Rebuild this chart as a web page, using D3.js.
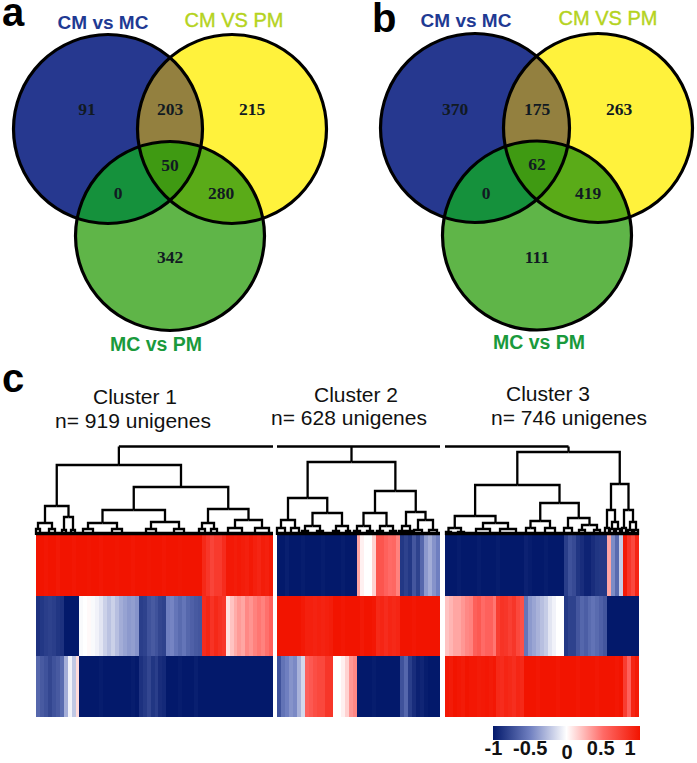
<!DOCTYPE html>
<html lang="en">
<head>
    <meta charset="UTF-8">
    <title>Venn diagrams and cluster heatmap</title>
    <script src="https://d3js.org/d3.v7.min.js"></script>
    <style>
        html, body { margin: 0; padding: 0; background: #fff; }
        svg { display: block; }
        text { font-family: "Liberation Sans", Arial, sans-serif; }
        .count { font-family: "Liberation Serif", serif; font-weight: bold; font-size: 17.5px; fill: #111a22; text-anchor: middle; dominant-baseline: central; }
        .soft { filter: blur(0.6px); }
    </style>
</head>
<body>
    <div id="chart"></div>
    <script>
        // Venn counts, order: blue only, blue+yellow, yellow only, all three, blue+green, yellow+green, green only
        const regionNames = ["CM vs MC", "CM VS PM", "MC vs PM"];
        const countsA = [91, 203, 215, 50, 0, 280, 342];
        const countsB = [370, 175, 263, 62, 0, 419, 111];

        // heatmap strips, one value per strip, -1 to 1
        const c1Row1 = [1,1,.98,1,1,.97,1,1,1,.98,1,1,1,.99,1,1,.98,1,1,1,.99,1,1,1,.98,1,1,1,.99,1,1,1,.98,1,1,1,.99,1,1,1,1,1,.88,.8,.72,.78,.78,.86,.97,.97,.95,.97,.95,.93,.97,.93,.9,.95,.93,.97];
        const c1Row2 = [-.88,-.85,-.82,-.8,-.82,-.86,-.88,-1,-1,-1,-1,-.02,0,.02,-.02,-.05,-.1,-.18,-.24,-.18,-.25,-.32,-.36,-.4,-.38,-.42,-.82,-.8,-.72,-.68,-.72,-.78,-.8,-.5,-.48,-.55,-.6,-.55,-.62,-.65,-.68,-.7,.86,.9,.82,.88,.84,.8,.1,.2,.28,.34,.3,.4,.36,.42,.46,.42,.48,.55];
        const c1Row3 = [-.62,-.68,-.72,-.78,-.72,-.68,-.6,-.32,-.05,-.22,.12,-1,-1,-1,-1,-1,-.98,-1,-1,-1,-1,-1,-1,-1,-.98,-1,-.88,-.84,-.78,-.86,-.82,-.9,-.92,-1,-1,-1,-.98,-1,-1,-1,-.97,-1,-1,-1,-1,-1,-1,-1,-1,-1,-1,-1,-1,-1,-1,-1,-1,-1,-1,-1];
        const c2Row1 = [-1,-1,-.97,-1,-1,-1,-.98,-1,-1,-1,-1,-.98,-1,-1,-1,-1,-.98,-1,-1,-1,.3,.05,0,0,.15,.62,.62,.55,.5,.52,.42,-.85,-.8,-.85,-.7,-.8,-.62,-.4,-.32,-.42,-.5];
        const c2Row2 = [1,1,1,1,1,1,.97,.93,.93,.91,.93,.91,.93,.95,1,1,.98,1,1,1,1,.97,1,1,.98,.88,.9,.86,.9,.88,.9,1,1,1,.98,1,1,1,1,1,1];
        const c2Row3 = [-.72,-.56,-.5,-.42,-.46,-.3,-.15,.55,.6,.66,.7,.7,.8,.8,0,0,.05,.15,.35,.4,-1,-1,-1,-1,-.98,-1,-1,-1,-1,-1,-1,-.72,-.62,-.82,-.9,-.96,-.94,-.98,-1,-1,-1];
        const c3Row1 = [-1,-1,-1,-.98,-1,-1,-1,-1,-.98,-1,-1,-1,-1,-.98,-1,-1,-1,-1,-1,-1,-.96,-.98,-1,-1,-1,-.98,-1,-1,-1,-1,-.82,-.72,-.76,-.86,-.9,-.95,-.95,-.9,-.86,-.85,-.85,.3,-.45,-.6,-.2,.96,.8,.7,.9];
        const c3Row2 = [.2,.25,.3,.3,.35,.4,.42,.56,.6,.5,.55,.55,.46,.76,.82,.8,.75,.8,.7,.65,-.55,-.4,-.35,-.3,-.25,-.2,-.1,-.05,0,0,-.85,-.8,-.8,-.7,-.62,-.66,-.6,-.56,-.6,-.65,-.7,-1,-1,-1,-1,-1,-1,-1,-1];
        const c3Row3 = [.98,.96,1,.98,.96,1,.98,.98,.96,.97,.98,.96,.98,.88,.86,.9,.88,.85,.9,.88,1,1,1,.98,1,1,1,1,.98,1,1,1,1,.98,1,1,1,1,.98,1,1,1,1,.98,1,.76,.55,.9,.96];

        // dendrograms, node = [height, left, right], leaf = position along the cluster
        const treeC1 = [70,
            [29, [12, [6, 0, 4], [6, 13, 19]], [18, [5, 26, 30], [5, 35, 39]]],
            [48,
                [25, [12, [6, 47, 57], [6, 76, 86]], [13, [6, 110, 120], [6, 138, 148]]],
                [26, [12, [6, 163, 169], [6, 175, 181]], [15, [7, 192, 206], [7, 219, 233]]]]];
        const treeC2 = [73,
            [37, [15, [7, 0, 8], [7, 14, 22]],
                [22, [9, [4, 25, 31], [4, 40, 46]], [9, [4, 56, 62], [4, 69, 73]]]],
            [44, [22, [9, [4, 77, 83], [4, 90, 96]], [9, [4, 100, 106], [4, 113, 119]]],
                [23, [9, [4, 122, 128], [4, 130, 136]], [15, [5, 137, 145], [5, 152, 160]]]]];
        const treeC3 = [83,
            [50, [19, [7, [3, 1, 6], [3, 13, 19]], [12, [6, 31, 45], [6, 55, 71]]],
                [32, [14, [7, 81, 90], [7, 100, 110]], [17, [7, 119, 127], [10, [5, 134, 140], [5, 149, 155]]]]],
            [51, [25, [7, 160, 164], [13, [6, 165, 169], [6, 171, 175]]],
                [25, [7, 177, 181], [13, [5, 183, 187], [5, 189, 193]]]]];

        const clusterNames = ["Cluster 1", "Cluster 2", "Cluster 3"];
        const clusterSizes = ["n= 919 unigenes", "n= 628 unigenes", "n= 746 unigenes"];
        const dendroLengths = [237, 163, 194];
        const topBars = [[null, 237], [0, 163], [0, null]];
        const colorTicks = [-1, -0.5, 0, 0.5, 1];
        const colorStops = ["#03196b", "#6f7fc0", "#ffffff", "#ff6a66", "#f21400"];

        const width = 697, height = 763;
        const svg = d3.select("#chart").append("svg")
            .attr("width", width).attr("height", height);

        const color = d3.scaleLinear().domain(colorTicks).range(colorStops).clamp(true);

        // ---------- venn ----------
        const regionFills = { blue: "#26388f", yellow: "#fff23c", green: "#5fb548",
            by: "#93803f", bg: "#15913c", yg: "#5aab18", all: "#3f9a12" };

        function venn(id, circles, counts, spots, labels) {
            const g = svg.append("g");
            const defs = g.append("defs");
            circles.forEach((c, i) => {
                defs.append("clipPath").attr("id", id + i)
                    .append("circle").attr("cx", c[0]).attr("cy", c[1]).attr("r", c[2]);
            });
            const disc = (p, i, fill) => p.append("circle")
                .attr("cx", circles[i][0]).attr("cy", circles[i][1]).attr("r", circles[i][2]).attr("fill", fill);

            disc(g, 0, regionFills.blue);
            disc(g, 1, regionFills.yellow);
            disc(g, 2, regionFills.green);
            disc(g.append("g").attr("clip-path", `url(#${id}0)`), 1, regionFills.by);
            disc(g.append("g").attr("clip-path", `url(#${id}0)`), 2, regionFills.bg);
            disc(g.append("g").attr("clip-path", `url(#${id}1)`), 2, regionFills.yg);
            disc(g.append("g").attr("clip-path", `url(#${id}0)`)
                .append("g").attr("clip-path", `url(#${id}1)`), 2, regionFills.all);

            g.selectAll("circle.ring").data(circles).join("circle")
                .attr("class", "ring")
                .attr("cx", d => d[0]).attr("cy", d => d[1]).attr("r", d => d[2])
                .attr("fill", "none").attr("stroke", "#000").attr("stroke-width", 3.2);

            g.selectAll("text.count").data(counts).join("text")
                .attr("class", "count")
                .attr("x", (d, i) => spots[i][0]).attr("y", (d, i) => spots[i][1])
                .text(d => d);

            const labelColors = ["#1f3a93", "#b5d31e", "#1a9a3c"];
            const labelSizes = [19, 20, 19.5];
            g.selectAll("text.setname").data(regionNames).join("text")
                .attr("class", "setname")
                .attr("x", (d, i) => labels[i][0]).attr("y", (d, i) => labels[i][1])
                .attr("text-anchor", "middle")
                .attr("font-size", (d, i) => labelSizes[i])
                .attr("font-weight", (d, i) => i == 1 ? "normal" : "bold")
                .attr("fill", (d, i) => labelColors[i])
                .attr("stroke", (d, i) => i == 1 ? labelColors[i] : "none")
                .attr("stroke-width", 0.4)
                .text(d => d);
        }

        venn("va", [[108, 129, 94.5], [232, 129, 94.5], [170, 236, 94.5]], countsA,
            [[87, 109], [170, 109], [252, 109], [170, 165], [118, 193], [221, 193], [170, 257]],
            [[103, 29], [234, 27], [156, 351]]);
        venn("vb", [[475, 128, 94.5], [598, 128, 94.5], [537, 235.5, 94.5]], countsB,
            [[455, 109], [537, 109], [619, 109], [537, 164], [486, 193], [588, 193], [537, 257]],
            [[466, 27], [608, 25], [539, 349]]);

        // panel letters
        const panels = [["a", 2, 26], ["b", 372, 32], ["c", 2, 392]];
        svg.selectAll("text.panel").data(panels).join("text")
            .attr("class", "panel")
            .attr("x", d => d[1]).attr("y", d => d[2])
            .attr("font-size", 40).attr("font-weight", "bold").attr("fill", "#000")
            .text(d => d[0]);

        // ---------- heatmap ----------
        const clusterX = [[36, 273], [277, 440], [445, 639]];
        const rowY = d3.scaleBand().domain([0, 1, 2]).range([535, 717]);
        const rows = [[c1Row1, c1Row2, c1Row3], [c2Row1, c2Row2, c2Row3], [c3Row1, c3Row2, c3Row3]];
        const heat = svg.append("g").attr("class", "soft").attr("shape-rendering", "crispEdges");

        rows.forEach((clusterRows, k) => {
            const x = d3.scaleBand().domain(d3.range(clusterRows[0].length)).range(clusterX[k]);
            clusterRows.forEach((vals, r) => {
                heat.append("g").selectAll("rect").data(vals).join("rect")
                    .attr("x", (d, i) => x(i))
                    .attr("y", rowY(r))
                    .attr("width", (d, i) => i == vals.length - 1 ? x.bandwidth() : x.bandwidth() + 1)
                    .attr("height", rowY.bandwidth())
                    .attr("fill", d => color(d));
            });
        });

        // ---------- dendrograms ----------
        const distY = d3.scaleLinear().domain([0, 90]).range([535, 445]);
        const dendro = svg.append("g").attr("class", "soft")
            .attr("fill", "none").attr("stroke", "#000").attr("stroke-width", 2.3);

        [treeC1, treeC2, treeC3].forEach((tree, k) => {
            const x = d3.scaleLinear().domain([0, dendroLengths[k]]).range(clusterX[k]);
            const root = d3.hierarchy(tree, d => Array.isArray(d) ? d.slice(1) : null);
            root.eachAfter(n => {
                n.pos = n.children ? d3.mean(n.children, c => c.pos) : n.data;
                n.h = n.children ? n.data[0] : 0;
            });
            root.links().forEach(l => {
                dendro.append("path").attr("d",
                    `M${x(l.source.pos)},${distY(l.source.h)}H${x(l.target.pos)}V${distY(l.target.h)}`);
            });
            // base of the leaves
            dendro.append("line")
                .attr("x1", clusterX[k][0]).attr("x2", clusterX[k][1])
                .attr("y1", 533.5).attr("y2", 533.5).attr("stroke-width", 3.5);
            // top bar joining the clusters
            const bar = topBars[k].map(v => v === null ? root.pos : v);
            dendro.append("path").attr("d",
                `M${x(bar[0])},${distY(88.5)}H${x(bar[1])}`);
            dendro.append("path").attr("d",
                `M${x(root.pos)},${distY(88.5)}V${distY(root.h)}`);
        });

        // cluster titles
        const titleX = [[135, 133], [356, 349], [548, 569]];
        const titleY = [[404, 428], [402, 425], [401, 425]];
        clusterNames.forEach((name, k) => {
            svg.append("text").attr("x", titleX[k][0]).attr("y", titleY[k][0])
                .attr("text-anchor", "middle").attr("font-size", 21).attr("fill", "#111").text(name);
            svg.append("text").attr("x", titleX[k][1]).attr("y", titleY[k][1])
                .attr("text-anchor", "middle").attr("font-size", 21).attr("fill", "#111").text(clusterSizes[k]);
        });

        // ---------- colour bar ----------
        const barX = d3.scaleLinear().domain([-1, 1]).range([493, 640]);
        const grad = svg.append("defs").append("linearGradient").attr("id", "bar");
        colorTicks.forEach(t => {
            grad.append("stop").attr("offset", (t + 1) / 2).attr("stop-color", color(t));
        });
        svg.append("rect").attr("x", barX(-1)).attr("y", 726)
            .attr("width", barX(1) - barX(-1)).attr("height", 14)
            .attr("fill", "url(#bar)");

        const axis = svg.append("g").attr("transform", "translate(0,755)")
            .call(d3.axisBottom(barX).tickValues(colorTicks).tickSize(0).tickPadding(0).tickFormat(d => d));
        axis.select(".domain").remove();
        axis.selectAll("text")
            .attr("y", d => d == 0 ? 4 : 0).attr("dy", 0)
            .attr("font-family", "Liberation Sans, Arial, sans-serif")
            .attr("font-size", 20).attr("font-weight", "bold").attr("fill", "#111")
            .attr("text-anchor", d => d == 1 ? "end" : "middle")
            .attr("dx", d => d == 1 ? -5 : d == 0.5 ? -3 : 0);
    </script>
</body>
</html>
